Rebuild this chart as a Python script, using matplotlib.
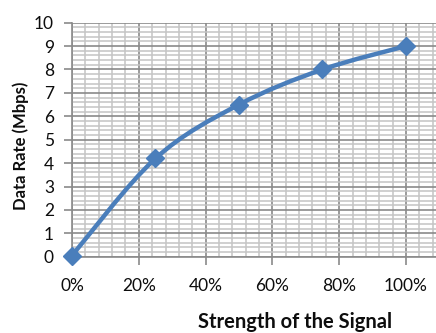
import matplotlib
matplotlib.use("Agg")
import matplotlib.pyplot as plt
from matplotlib.path import Path
from matplotlib.patches import PathPatch
from matplotlib.ticker import MultipleLocator, PercentFormatter, FixedLocator
import numpy as np

# Signal strength (fraction) vs. achieved data rate
signal_strength = [0.0, 0.25, 0.50, 0.75, 1.00]
data_rate_mbps = [0.05, 4.2, 6.5, 8.0, 9.0]

x_ticks = [0.0, 0.2, 0.4, 0.6, 0.8, 1.0]
y_ticks = list(range(0, 11))

LINE_COLOR = "#4a7ebb"
MAJOR_GRID = "#8a8a8a"
MINOR_GRID = "#c4c4c4"
TEXT_COLOR = "#0d0d0d"

plt.rcParams["font.family"] = ["Lato", "DejaVu Sans"]

W, H = 436, 333
fig = plt.figure(figsize=(W / 100, H / 100), dpi=100)
ax = fig.add_axes([72 / W, 1 - 256.7 / H, (W - 72) / W, (256.7 - 22.7) / H])

ax.set_xlim(0, 1.09)
ax.set_ylim(0, 10)

ax.xaxis.set_major_locator(FixedLocator(x_ticks))
ax.xaxis.set_minor_locator(MultipleLocator(0.04))
ax.yaxis.set_major_locator(FixedLocator(y_ticks))
ax.yaxis.set_minor_locator(MultipleLocator(0.2))
ax.xaxis.set_major_formatter(PercentFormatter(1.0, decimals=0))

ax.grid(which="minor", color=MINOR_GRID, linewidth=1.1, zorder=0)
ax.grid(which="major", color=MAJOR_GRID, linewidth=1.2, zorder=0.5)
ax.set_axisbelow(True)

for side in ("top", "right"):
    ax.spines[side].set_visible(False)
for side in ("left", "bottom"):
    ax.spines[side].set_color(MAJOR_GRID)
    ax.spines[side].set_linewidth(1.2)

ax.tick_params(which="major", direction="out", length=6, width=1.2,
               color=MAJOR_GRID, labelsize=12.5, labelcolor=TEXT_COLOR)
ax.tick_params(axis="y", pad=7)
ax.tick_params(axis="x", pad=9)
ax.tick_params(which="minor", length=0)

# Smoothed line through the points (Catmull-Rom style cubic Bezier)
pts = np.column_stack([signal_strength, data_rate_mbps])
n = len(pts)
verts = [tuple(pts[0])]
codes = [Path.MOVETO]
for i in range(n - 1):
    p_prev = pts[i - 1] if i > 0 else pts[i]
    p0 = pts[i]
    p1 = pts[i + 1]
    p_next = pts[i + 2] if i + 2 < n else pts[i + 1]
    c1 = p0 + (p1 - p_prev) / 6.0
    c2 = p1 - (p_next - p0) / 6.0
    verts += [tuple(c1), tuple(c2), tuple(p1)]
    codes += [Path.CURVE4] * 3
curve = PathPatch(Path(verts, codes), facecolor="none", edgecolor=LINE_COLOR,
                  linewidth=3.2, capstyle="round", joinstyle="round", zorder=3)
ax.add_patch(curve)

ax.plot(signal_strength, data_rate_mbps, linestyle="none", marker="D",
        markersize=9.5, color=LINE_COLOR, zorder=4, clip_on=False)

fig.text(21 / W, 1 - 146 / H, "Data Rate (Mbps)", rotation=90,
         ha="center", va="center", fontsize=12, fontweight="bold", color=TEXT_COLOR)
fig.text(295 / W, 1 - 322 / H, "Strength of the Signal",
         ha="center", va="center", fontsize=14.5, fontweight="bold", color=TEXT_COLOR)

fig.savefig("out.png", dpi=100)
